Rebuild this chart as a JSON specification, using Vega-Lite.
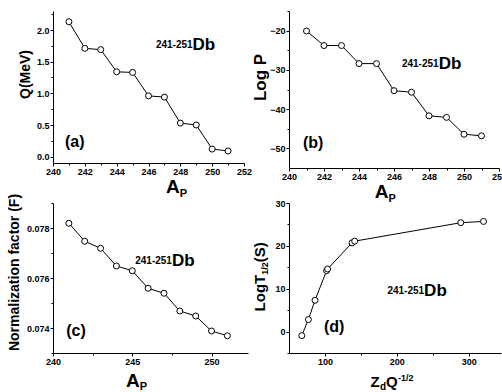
{
  "$schema": "https://vega.github.io/schema/vega-lite/v6.json",
  "padding": {"left": 6, "top": 10, "right": 0, "bottom": 0},
  "background": "white",
  "bounds": "flush",
  "align": "each",
  "columns": 2,
  "spacing": {"row": 35, "column": 41},
  "datasets": {
    "qa": [
      {"x": 241, "y": 2.13}, {"x": 242, "y": 1.71}, {"x": 243, "y": 1.69}, {"x": 244, "y": 1.34},
      {"x": 245, "y": 1.33}, {"x": 246, "y": 0.96}, {"x": 247, "y": 0.94}, {"x": 248, "y": 0.53},
      {"x": 249, "y": 0.50}, {"x": 250, "y": 0.12}, {"x": 251, "y": 0.09}
    ],
    "pb": [
      {"x": 241, "y": -20.1}, {"x": 242, "y": -23.8}, {"x": 243, "y": -23.8}, {"x": 244, "y": -28.4},
      {"x": 245, "y": -28.4}, {"x": 246, "y": -35.3}, {"x": 247, "y": -35.7}, {"x": 248, "y": -41.7},
      {"x": 249, "y": -42.1}, {"x": 250, "y": -46.4}, {"x": 251, "y": -46.8}
    ],
    "fc": [
      {"x": 241, "y": 0.07819}, {"x": 242, "y": 0.07747}, {"x": 243, "y": 0.07719}, {"x": 244, "y": 0.07648},
      {"x": 245, "y": 0.07629}, {"x": 246, "y": 0.07559}, {"x": 247, "y": 0.07539}, {"x": 248, "y": 0.07468},
      {"x": 249, "y": 0.07448}, {"x": 250, "y": 0.07388}, {"x": 251, "y": 0.07369}
    ],
    "td": [
      {"x": 67.8, "y": -0.94}, {"x": 77, "y": 2.8}, {"x": 86.2, "y": 7.3}, {"x": 102.3, "y": 14.2},
      {"x": 103.7, "y": 14.6}, {"x": 137.7, "y": 20.7}, {"x": 141.4, "y": 21.1}, {"x": 289, "y": 25.4},
      {"x": 320.7, "y": 25.7}
    ]
  },
  "concat": [
    {
      "width": 191, "height": 152,
      "resolve": {"axis": {"x": "independent", "y": "independent"}},
      "layer": [
        {
          "data": {"name": "qa"},
          "mark": {"type": "line", "color": "black", "strokeWidth": 1},
          "encoding": {
            "x": {"field": "x", "type": "quantitative", "scale": {"domain": [240, 252], "nice": false, "zero": false},
                  "axis": {"orient": "bottom", "values": [240, 242, 244, 246, 248, 250, 252], "format": "d", "title": null}},
            "y": {"field": "y", "type": "quantitative", "scale": {"domain": [-0.1, 2.3], "nice": false, "zero": false},
                  "axis": {"orient": "left", "values": [0, 0.5, 1, 1.5, 2], "format": ".1f", "title": "Q(MeV)", "titleFontSize": 14, "titleX": -21, "titleY": 63}}
          }
        },
        {
          "data": {"name": "qa"},
          "mark": {"type": "point", "shape": "circle", "filled": true, "fill": "white", "stroke": "black", "strokeWidth": 1, "size": 36, "opacity": 1},
          "encoding": {
            "x": {"field": "x", "type": "quantitative", "axis": {"orient": "bottom", "values": [241, 243, 245, 247, 249, 251], "labels": false, "domain": false, "tickSize": 2, "title": null}},
            "y": {"field": "y", "type": "quantitative", "axis": {"orient": "left", "values": [0.25, 0.75, 1.25, 1.75, 2.25], "labels": false, "domain": false, "tickSize": 2, "title": null}}
          }
        },
        {
          "data": {"values": [{"x": 240.75, "y": 0.16, "t": "(a)"}]},
          "mark": {"type": "text", "fontSize": 16, "align": "left"},
          "encoding": {"x": {"field": "x", "type": "quantitative", "axis": null}, "y": {"field": "y", "type": "quantitative", "axis": null}, "text": {"field": "t"}}
        },
        {
          "data": {"values": [{"x": 248.77, "y": 1.68, "sup": "241-251", "main": "Db"}]},
          "layer": [
            {"mark": {"type": "text", "fontSize": 10, "align": "right", "dy": -2}, "encoding": {"text": {"field": "sup"}}},
            {"mark": {"type": "text", "fontSize": 17, "align": "left"}, "encoding": {"text": {"field": "main"}}}
          ],
          "encoding": {"x": {"field": "x", "type": "quantitative", "axis": null}, "y": {"field": "y", "type": "quantitative", "axis": null}}
        },
        {
          "data": {"values": [{"x": 247.1, "y": -0.1, "big": "A", "sub": "P"}]},
          "layer": [
            {"mark": {"type": "text", "fontSize": 19, "align": "left", "dy": 30}, "encoding": {"text": {"field": "big"}}},
            {"mark": {"type": "text", "fontSize": 11, "align": "left", "dx": 13.7, "dy": 34}, "encoding": {"text": {"field": "sub"}}}
          ],
          "encoding": {"x": {"field": "x", "type": "quantitative", "axis": null}, "y": {"field": "y", "type": "quantitative", "axis": null}}
        }
      ]
    },
    {
      "width": 210, "height": 157,
      "resolve": {"axis": {"x": "independent", "y": "independent"}},
      "layer": [
        {
          "data": {"name": "pb"},
          "mark": {"type": "line", "color": "black", "strokeWidth": 1},
          "encoding": {
            "x": {"field": "x", "type": "quantitative", "scale": {"domain": [240, 252], "nice": false, "zero": false},
                  "axis": {"orient": "bottom", "values": [240, 242, 244, 246, 248, 250, 252], "format": "d", "title": null}},
            "y": {"field": "y", "type": "quantitative", "scale": {"domain": [-55, -15], "nice": false, "zero": false},
                  "axis": {"orient": "left", "values": [-50, -40, -30, -20], "format": "d", "title": "Log P", "titleFontSize": 17, "titleX": -20, "titleY": 66}}
          }
        },
        {
          "data": {"name": "pb"},
          "mark": {"type": "point", "shape": "circle", "filled": true, "fill": "white", "stroke": "black", "strokeWidth": 1, "size": 36, "opacity": 1},
          "encoding": {
            "x": {"field": "x", "type": "quantitative", "axis": {"orient": "bottom", "values": [241, 243, 245, 247, 249, 251], "labels": false, "domain": false, "tickSize": 2, "title": null}},
            "y": {"field": "y", "type": "quantitative", "axis": {"orient": "left", "values": [-45, -35, -25, -15], "labels": false, "domain": false, "tickSize": 2, "title": null}}
          }
        },
        {
          "data": {"values": [{"x": 240.8, "y": -50, "t": "(b)"}]},
          "mark": {"type": "text", "fontSize": 16, "align": "left"},
          "encoding": {"x": {"field": "x", "type": "quantitative", "axis": null}, "y": {"field": "y", "type": "quantitative", "axis": null}, "text": {"field": "t"}}
        },
        {
          "data": {"values": [{"x": 248.55, "y": -29.7, "sup": "241-251", "main": "Db"}]},
          "layer": [
            {"mark": {"type": "text", "fontSize": 10, "align": "right", "dy": -2}, "encoding": {"text": {"field": "sup"}}},
            {"mark": {"type": "text", "fontSize": 17, "align": "left"}, "encoding": {"text": {"field": "main"}}}
          ],
          "encoding": {"x": {"field": "x", "type": "quantitative", "axis": null}, "y": {"field": "y", "type": "quantitative", "axis": null}}
        },
        {
          "data": {"values": [{"x": 244.9, "y": -55, "big": "A", "sub": "P"}]},
          "layer": [
            {"mark": {"type": "text", "fontSize": 19, "align": "left", "dy": 30}, "encoding": {"text": {"field": "big"}}},
            {"mark": {"type": "text", "fontSize": 11, "align": "left", "dx": 13.7, "dy": 34}, "encoding": {"text": {"field": "sub"}}}
          ],
          "encoding": {"x": {"field": "x", "type": "quantitative", "axis": null}, "y": {"field": "y", "type": "quantitative", "axis": null}}
        }
      ]
    },
    {
      "width": 195, "height": 150,
      "resolve": {"axis": {"x": "independent", "y": "independent"}},
      "layer": [
        {
          "data": {"name": "fc"},
          "mark": {"type": "line", "color": "black", "strokeWidth": 1},
          "encoding": {
            "x": {"field": "x", "type": "quantitative", "scale": {"domain": [240, 252.3], "nice": false, "zero": false},
                  "axis": {"orient": "bottom", "values": [240, 245, 250], "format": "d", "title": null}},
            "y": {"field": "y", "type": "quantitative", "scale": {"domain": [0.073, 0.079], "nice": false, "zero": false},
                  "axis": {"orient": "left", "values": [0.074, 0.076, 0.078], "format": ".3f", "title": "Normalization factor (F)", "titleFontSize": 14, "titleX": -32, "titleY": 69}}
          }
        },
        {
          "data": {"name": "fc"},
          "mark": {"type": "point", "shape": "circle", "filled": true, "fill": "white", "stroke": "black", "strokeWidth": 1, "size": 36, "opacity": 1},
          "encoding": {
            "x": {"field": "x", "type": "quantitative", "axis": {"orient": "bottom", "values": [242.5, 247.5], "labels": false, "domain": false, "tickSize": 2, "title": null}},
            "y": {"field": "y", "type": "quantitative", "axis": {"orient": "left", "values": [0.073, 0.075, 0.077, 0.079], "labels": false, "domain": false, "tickSize": 2, "title": null}}
          }
        },
        {
          "data": {"values": [{"x": 240.83, "y": 0.07368, "t": "(c)"}]},
          "mark": {"type": "text", "fontSize": 16, "align": "left"},
          "encoding": {"x": {"field": "x", "type": "quantitative", "axis": null}, "y": {"field": "y", "type": "quantitative", "axis": null}, "text": {"field": "t"}}
        },
        {
          "data": {"values": [{"x": 247.5, "y": 0.07648, "sup": "241-251", "main": "Db"}]},
          "layer": [
            {"mark": {"type": "text", "fontSize": 10, "align": "right", "dy": -2}, "encoding": {"text": {"field": "sup"}}},
            {"mark": {"type": "text", "fontSize": 17, "align": "left"}, "encoding": {"text": {"field": "main"}}}
          ],
          "encoding": {"x": {"field": "x", "type": "quantitative", "axis": null}, "y": {"field": "y", "type": "quantitative", "axis": null}}
        },
        {
          "data": {"values": [{"x": 244.6, "y": 0.073, "big": "A", "sub": "P"}]},
          "layer": [
            {"mark": {"type": "text", "fontSize": 19, "align": "left", "dy": 34}, "encoding": {"text": {"field": "big"}}},
            {"mark": {"type": "text", "fontSize": 11, "align": "left", "dx": 13.7, "dy": 37}, "encoding": {"text": {"field": "sub"}}}
          ],
          "encoding": {"x": {"field": "x", "type": "quantitative", "axis": null}, "y": {"field": "y", "type": "quantitative", "axis": null}}
        }
      ]
    },
    {
      "width": 212, "height": 150,
      "resolve": {"axis": {"x": "independent", "y": "independent"}},
      "layer": [
        {
          "data": {"name": "td"},
          "mark": {"type": "line", "color": "black", "strokeWidth": 1},
          "encoding": {
            "x": {"field": "x", "type": "quantitative", "scale": {"domain": [50, 345], "nice": false, "zero": false},
                  "axis": {"orient": "bottom", "values": [100, 200, 300], "format": "d", "title": null}},
            "y": {"field": "y", "type": "quantitative", "scale": {"domain": [-5, 30], "nice": false, "zero": false},
                  "axis": {"orient": "left", "values": [0, 10, 20, 30], "format": "d", "title": null}}
          }
        },
        {
          "data": {"name": "td"},
          "mark": {"type": "point", "shape": "circle", "filled": true, "fill": "white", "stroke": "black", "strokeWidth": 1, "size": 36, "opacity": 1},
          "encoding": {
            "x": {"field": "x", "type": "quantitative", "axis": {"orient": "bottom", "values": [150, 250], "labels": false, "domain": false, "tickSize": 2, "title": null}},
            "y": {"field": "y", "type": "quantitative", "axis": {"orient": "left", "values": [-5, 5, 15, 25], "labels": false, "domain": false, "tickSize": 2, "title": null}}
          }
        },
        {
          "data": {"values": [{"x": 98.6, "y": 0, "t": "(d)"}]},
          "mark": {"type": "text", "fontSize": 16, "align": "left"},
          "encoding": {"x": {"field": "x", "type": "quantitative", "axis": null}, "y": {"field": "y", "type": "quantitative", "axis": null}, "text": {"field": "t"}}
        },
        {
          "data": {"values": [{"x": 238, "y": 8.2, "sup": "241-251", "main": "Db"}]},
          "layer": [
            {"mark": {"type": "text", "fontSize": 10, "align": "right", "dy": -2}, "encoding": {"text": {"field": "sup"}}},
            {"mark": {"type": "text", "fontSize": 17, "align": "left"}, "encoding": {"text": {"field": "main"}}}
          ],
          "encoding": {"x": {"field": "x", "type": "quantitative", "axis": null}, "y": {"field": "y", "type": "quantitative", "axis": null}}
        },
        {
          "data": {"values": [{"x": 163.4, "y": -5, "z": "Z", "d": "d", "q": "Q", "e": "-1/2"}]},
          "layer": [
            {"mark": {"type": "text", "fontSize": 15, "align": "left", "dy": 34}, "encoding": {"text": {"field": "z"}}},
            {"mark": {"type": "text", "fontSize": 10, "align": "left", "dx": 9.5, "dy": 37}, "encoding": {"text": {"field": "d"}}},
            {"mark": {"type": "text", "fontSize": 15, "align": "left", "dx": 15.6, "dy": 34}, "encoding": {"text": {"field": "q"}}},
            {"mark": {"type": "text", "fontSize": 9, "align": "left", "dx": 27.5, "dy": 28}, "encoding": {"text": {"field": "e"}}}
          ],
          "encoding": {"x": {"field": "x", "type": "quantitative", "axis": null}, "y": {"field": "y", "type": "quantitative", "axis": null}}
        },
        {
          "data": {"values": [{"x": 50, "y": 4.7, "a": "LogT", "b": "1/2", "c": "(S)"}]},
          "layer": [
            {"mark": {"type": "text", "fontSize": 15, "align": "left", "angle": 270, "dx": 0, "dy": -24}, "encoding": {"text": {"field": "a"}}},
            {"mark": {"type": "text", "fontSize": 9, "align": "left", "angle": 270, "dx": 36.7, "dy": -21}, "encoding": {"text": {"field": "b"}}},
            {"mark": {"type": "text", "fontSize": 15, "align": "left", "angle": 270, "dx": 49.2, "dy": -24}, "encoding": {"text": {"field": "c"}}}
          ],
          "encoding": {"x": {"field": "x", "type": "quantitative", "axis": null}, "y": {"field": "y", "type": "quantitative", "axis": null}}
        }
      ]
    }
  ],
  "config": {
    "view": {"stroke": null},
    "font": "Liberation Sans",
    "axis": {
      "grid": false,
      "domainColor": "black", "domainWidth": 1,
      "tickColor": "black", "tickWidth": 1, "tickSize": 3,
      "labelColor": "black", "labelFont": "Liberation Sans", "labelFontWeight": "bold", "labelFontSize": 9, "labelPadding": 1,
      "labelFlush": false, "labelOverlap": false,
      "titleColor": "black", "titleFont": "Liberation Sans", "titleFontWeight": "bold"
    },
    "text": {"font": "Liberation Sans", "fontWeight": "bold", "color": "black", "baseline": "alphabetic"}
  }
}
